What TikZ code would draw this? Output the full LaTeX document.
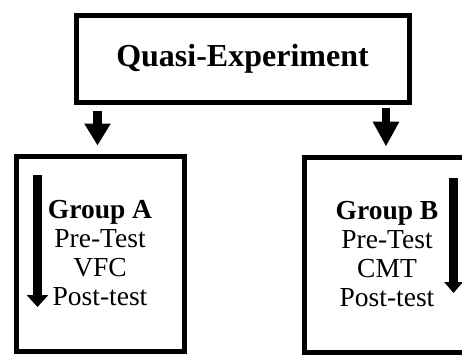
\documentclass[tikz,border=0pt]{standalone}
\usepackage{fontspec}
\setmainfont{Liberation Serif}
\usetikzlibrary{arrows.meta}
\begin{document}
\begin{tikzpicture}[x=1pt,y=-1pt,
  box/.style={draw, line width=5pt, inner sep=0pt, align=center},
  grp/.style={box, minimum height=195pt, font=\fontsize{27.5}{29}\selectfont},
  down/.style={line width=8.5pt, -{Triangle[width=25pt,length=22pt]}},
  flow/.style={line width=9pt, -{Triangle[width=21pt,length=12pt]}},
]
  \useasboundingbox (0,0) rectangle (462,354);

  \node[box, minimum width=333pt, minimum height=86.5pt,
        font=\fontsize{32}{36}\bfseries\selectfont] (qe) at (242.5,58.75) {Quasi-Experiment};

  \node[grp, minimum width=168pt] (ga) at (100,253.5)
    {\textbf{Group A}\\Pre-Test\\VFC\\Post-test};
  \node[grp, minimum width=166pt] (gb) at (387,254.5)
    {\textbf{Group B}\\Pre-Test\\CMT\\Post-test};

  \draw[down, shorten <=6pt, shorten >=8pt]
    ([xshift=-2.5pt]ga.north |- qe.south) -- ([xshift=-2.5pt]ga.north);
  \draw[down, -{Triangle[width=25pt,length=25pt]}, shorten <=3pt, shorten >=8pt]
    ([xshift=-1pt]gb.north |- qe.south) -- ([xshift=-1pt]gb.north);

  \coordinate (a1) at (37.5,175);
  \coordinate (a2) at (37.5,307);
  \coordinate (b1) at (453.5,178);
  \coordinate (b2) at (453.5,293);
  \draw[flow] (a1) -- (a2);
  \draw[flow, -{Triangle[width=18pt,length=11pt]}] (b1) -- (b2);
\end{tikzpicture}
\end{document}
